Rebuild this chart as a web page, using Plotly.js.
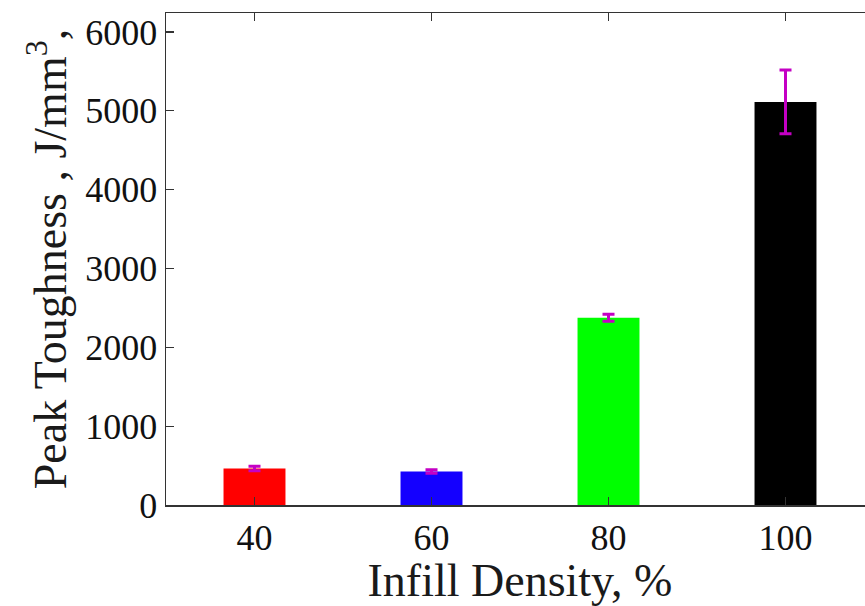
<!DOCTYPE html>
<html>
<head>
<meta charset="utf-8">
<script src="https://cdn.plot.ly/plotly-3.0.1.min.js"></script>
<style>
html, body { margin: 0; padding: 0; overflow: hidden; background: #fff; }
#chart { width: 874px; height: 606px; }
</style>
</head>
<body>
<div id="chart"></div>
<script>
// Data
const infillDensity = [40, 60, 80, 100];
const peakToughness = [462, 425, 2375, 5112];
const toughnessError = [28, 22, 45, 405];
const barColors = ['#ff0000', '#1400ff', '#00ff00', '#000000'];
const xTickLabels = ['40', '60', '80', '100'];
const yTickValues = [0, 1000, 2000, 3000, 4000, 5000, 6000];

const serif = '"Liberation Serif", "Times New Roman", serif';

const trace = {
  type: 'bar',
  x: infillDensity,
  y: peakToughness,
  width: 7,
  marker: { color: barColors, line: { width: 0 } },
  error_y: {
    type: 'data',
    array: toughnessError,
    visible: true,
    color: '#c400c4',
    thickness: 3,
    width: 6
  },
  hoverinfo: 'x+y'
};

const axisCommon = {
  showline: true,
  linecolor: '#333',
  linewidth: 1.5,
  mirror: 'ticks',
  ticks: 'inside',
  ticklen: 8,
  tickwidth: 1.2,
  tickcolor: '#333',
  showgrid: false,
  zeroline: false,
  tickfont: { family: serif, size: 36, color: '#111' }
};

const layout = {
  width: 874,
  height: 606,
  margin: { l: 166, r: 0, t: 13, b: 101 },
  paper_bgcolor: '#fff',
  plot_bgcolor: '#fff',
  showlegend: false,
  xaxis: Object.assign({}, axisCommon, {
    range: [30, 110],
    tickmode: 'array',
    tickvals: infillDensity,
    ticktext: xTickLabels,
    title: { text: 'Infill Density, %', font: { family: serif, size: 46, color: '#1a1a1a' }, standoff: 8 }
  }),
  yaxis: Object.assign({}, axisCommon, {
    range: [0, 6240],
    tickmode: 'array',
    tickvals: yTickValues,
    ticktext: yTickValues.map(String),
    title: { text: 'Peak Toughness , J/mm<sup>3</sup>,', font: { family: serif, size: 46, color: '#1a1a1a' }, standoff: 4 }
  })
};

Plotly.newPlot('chart', [trace], layout, { displayModeBar: false, staticPlot: true });
</script>
</body>
</html>
